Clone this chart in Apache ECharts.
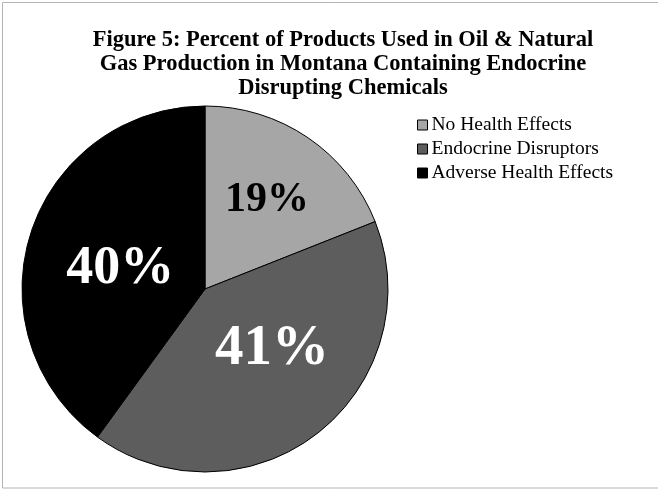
<!DOCTYPE html>
<html>
<head>
<meta charset="utf-8">
<script src="https://cdn.jsdelivr.net/npm/echarts@6/dist/echarts.min.js"></script>
<style>html,body{margin:0;padding:0;background:#fff}#c{width:658px;height:489px}</style>
</head>
<body>
<div id="c"></div>
<script>
const categories = ["No Health Effects", "Endocrine Disruptors", "Adverse Health Effects"];
const values = [19, 41, 40];
const colors = ["#a6a6a6", "#5d5d5d", "#000000"];
const labelColors = ["#000000", "#ffffff", "#ffffff"];
const labelSizes = [42, 57, 54];
const labelShift = [[9, -11], [9, -14], [5, 9]];
const titleText = "Figure 5: Percent of Products Used in Oil & Natural\nGas Production in Montana Containing Endocrine\nDisrupting Chemicals";

const chart = echarts.init(document.getElementById('c'), null, {renderer: 'canvas'});
chart.setOption({
  animation: false,
  backgroundColor: '#ffffff',
  graphic: [{
    type: 'rect', shape: {x: 2.5, y: 2.5, width: 700, height: 485.5},
    style: {fill: 'none', stroke: '#b4b4b4', lineWidth: 1}, silent: true
  }],
  title: {
    text: titleText,
    left: 338, top: 23, textAlign: 'center',
    textStyle: {fontFamily: 'Liberation Serif', fontWeight: 'bold', fontSize: 22.5, lineHeight: 24, color: '#000'}
  },
  legend: {
    orient: 'vertical', left: 412, top: 110,
    icon: 'rect', itemWidth: 10, itemHeight: 10, itemGap: 4,
    data: categories,
    itemStyle: {borderColor: '#000', borderWidth: 1},
    textStyle: {fontFamily: 'Liberation Serif', fontSize: 19.5, color: '#000', lineHeight: 18, padding: [0, 0, 0, -1]}
  },
  series: [{
    type: 'pie',
    center: [205, 289], radius: 183,
    startAngle: 90, clockwise: true,
    data: categories.map((c, i) => ({
      name: c, value: values[i],
      itemStyle: {color: colors[i]},
      label: {color: labelColors[i], fontSize: labelSizes[i]}
    })),
    itemStyle: {borderColor: '#000', borderWidth: 1},
    label: {
      show: true, position: 'inside', formatter: '{c}%',
      fontFamily: 'Liberation Serif', fontWeight: 'bold'
    },
    labelLayout: function (p) {
      const s = labelShift[p.dataIndex];
      return {dx: s[0], dy: s[1]};
    },
    emphasis: {disabled: true}
  }]
});
</script>
</body>
</html>
